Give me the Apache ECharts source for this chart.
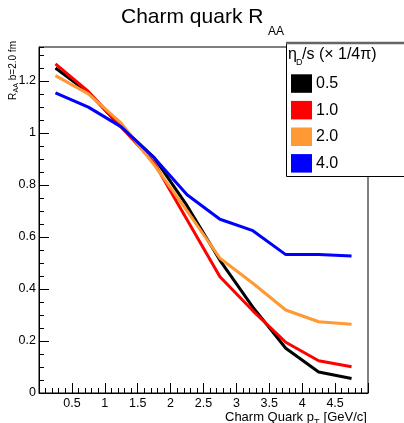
<!DOCTYPE html>
<html>
<head>
<meta charset="utf-8">
<script src="https://cdn.jsdelivr.net/npm/echarts@6/dist/echarts.min.js"></script>
<style>
  html, body { margin: 0; padding: 0; background: #fff; }
  #chart { width: 404px; height: 423px; }
</style>
</head>
<body>
<div id="chart"></div>
<script>
// Charm quark p_T bin centres [GeV/c]
const pT = [0.25, 0.75, 1.25, 1.75, 2.25, 2.75, 3.25, 3.75, 4.25, 4.75];

// Legend entries: eta_D/s in units of 1/4pi
const etaLabels = ['0.5', '1.0', '2.0', '4.0'];

// R_AA for each eta_D/s value
const raaEta05 = [1.249, 1.155, 1.023, 0.905, 0.720, 0.510, 0.330, 0.172, 0.081, 0.056];
const raaEta10 = [1.265, 1.159, 1.023, 0.885, 0.666, 0.447, 0.316, 0.195, 0.124, 0.101];
const raaEta20 = [1.220, 1.150, 1.037, 0.877, 0.700, 0.518, 0.422, 0.319, 0.274, 0.264];
const raaEta40 = [1.154, 1.099, 1.023, 0.904, 0.762, 0.668, 0.624, 0.532, 0.532, 0.527];

// Axis ranges and major tick steps
const xRange = [0, 5];
const yRange = [0, 1.33];
const xStep = 0.5;
const yStep = 0.2;
const yMinorStep = 0.05;

const FONT = '"Liberation Sans", Arial, Helvetica, sans-serif';
const lineColors = ['#000000', '#ff0000', '#ff9933', '#0000ff'];
const allSeries = [raaEta05, raaEta10, raaEta20, raaEta40];

const chart = echarts.init(document.getElementById('chart'), null, { renderer: 'canvas' });

const series = allSeries.map((vals, i) => ({
  name: etaLabels[i],
  type: 'line',
  xAxisIndex: 0,
  yAxisIndex: 0,
  data: pT.map((x, k) => [x, vals[k]]),
  showSymbol: false,
  symbol: 'none',
  smooth: false,
  lineStyle: { color: lineColors[i], width: 3 },
  itemStyle: { color: lineColors[i] },
  z: 3 + i,
  animation: false
}));

// Legend box contents
const legendTop = 74.3;
const legendStep = 26.6;
const legendItems = [];
etaLabels.forEach((lab, i) => {
  legendItems.push({
    type: 'rect',
    shape: { x: 291, y: legendTop + i * legendStep, width: 21, height: 18.5 },
    style: { fill: lineColors[i] },
    z: 21
  });
  legendItems.push({
    type: 'text',
    x: 316, y: legendTop + i * legendStep + 9.5,
    style: { text: lab, font: '16px ' + FONT, fill: '#000', verticalAlign: 'middle', align: 'left' },
    z: 21
  });
});

const option = {
  animation: false,
  backgroundColor: '#fff',
  grid: {
    left: 39, top: 47, right: 36, bottom: 30,
    show: true, borderColor: '#000', borderWidth: 1, backgroundColor: 'transparent'
  },
  xAxis: [{
    type: 'value',
    min: xRange[0], max: xRange[1], interval: xStep,
    axisLine: { show: true, onZero: false, lineStyle: { color: '#000', width: 1 } },
    axisTick: { show: true, inside: true, length: 10, lineStyle: { color: '#000', width: 1 } },
    minorTick: { show: true, splitNumber: 5, length: 5, lineStyle: { color: '#000', width: 1 } },
    splitLine: { show: false },
    minorSplitLine: { show: false },
    axisLabel: {
      show: true, margin: 4, color: '#000', fontSize: 12.5, fontFamily: FONT,
      showMinLabel: false, showMaxLabel: false
    }
  }],
  yAxis: [{
    type: 'value',
    min: yRange[0], max: yRange[1], interval: yStep,
    axisLine: { show: true, onZero: false, lineStyle: { color: '#000', width: 1 } },
    axisTick: { show: true, inside: true, length: 10, lineStyle: { color: '#000', width: 1 } },
    splitLine: { show: false },
    axisLabel: {
      show: true, margin: 3, color: '#000', fontSize: 12.5, fontFamily: FONT,
      showMinLabel: true, showMaxLabel: false
    }
  }, {
    // secondary scale carrying only the short ticks
    type: 'value',
    position: 'left',
    min: yRange[0], max: yRange[1], interval: yMinorStep,
    axisLine: { show: false },
    axisTick: { show: true, inside: true, length: 5, lineStyle: { color: '#000', width: 1 } },
    splitLine: { show: false },
    axisLabel: { show: false }
  }],
  series: series,
  graphic: [
    // title
    {
      type: 'text', x: 121, y: 17.5, z: 20,
      style: { text: 'Charm quark R', font: '21px ' + FONT, fill: '#000', verticalAlign: 'middle', align: 'left' }
    },
    {
      type: 'text', x: 268, y: 31.5, z: 20,
      style: { text: 'AA', font: '12px ' + FONT, fill: '#000', verticalAlign: 'middle', align: 'left' }
    },
    // y-axis title, reading bottom to top
    {
      type: 'group', x: 13, y: 100, rotation: Math.PI / 2, z: 20,
      children: [
        { type: 'text', x: 0, y: 0, style: { text: 'R', font: '10px ' + FONT, fill: '#000', verticalAlign: 'middle', align: 'left' } },
        { type: 'text', x: 7.5, y: 3, style: { text: 'AA', font: '7px ' + FONT, fill: '#000', verticalAlign: 'middle', align: 'left' } },
        { type: 'text', x: 17, y: 0, style: { text: ' b=2.0 fm', font: '10px ' + FONT, fill: '#000', verticalAlign: 'middle', align: 'left' } }
      ]
    },
    // x-axis title
    {
      type: 'text', x: 225, y: 417.5, z: 20,
      style: { text: 'Charm Quark p', font: '13px ' + FONT, fill: '#000', verticalAlign: 'middle', align: 'left' }
    },
    {
      type: 'text', x: 314, y: 423, z: 20,
      style: { text: 'T', font: '9px ' + FONT, fill: '#000', verticalAlign: 'middle', align: 'left' }
    },
    {
      type: 'text', x: 320, y: 417.5, z: 20,
      style: { text: ' [GeV/c]', font: '13px ' + FONT, fill: '#000', verticalAlign: 'middle', align: 'left' }
    },
    // legend frame
    {
      type: 'rect', z: 19,
      shape: { x: 286.5, y: 42.5, width: 140, height: 134 },
      style: { fill: '#fff', stroke: '#000', lineWidth: 1 }
    },
    {
      type: 'line', z: 20,
      shape: { x1: 286, y1: 43, x2: 404, y2: 43 },
      style: { stroke: '#666', lineWidth: 2.5 }
    },
    // legend header
    {
      type: 'text', x: 288, y: 55, z: 21,
      style: { text: '\u03b7', font: '16px ' + FONT, fill: '#000', verticalAlign: 'middle', align: 'left' }
    },
    {
      type: 'text', x: 296, y: 62.5, z: 21,
      style: { text: 'D', font: '9px ' + FONT, fill: '#000', verticalAlign: 'middle', align: 'left' }
    },
    {
      type: 'text', x: 302, y: 55, z: 21,
      style: { text: '/s (\u00d7 1/4\u03c0)', font: '16px ' + FONT, fill: '#000', verticalAlign: 'middle', align: 'left' }
    }
  ].concat(legendItems)
};

chart.setOption(option);
</script>
</body>
</html>
